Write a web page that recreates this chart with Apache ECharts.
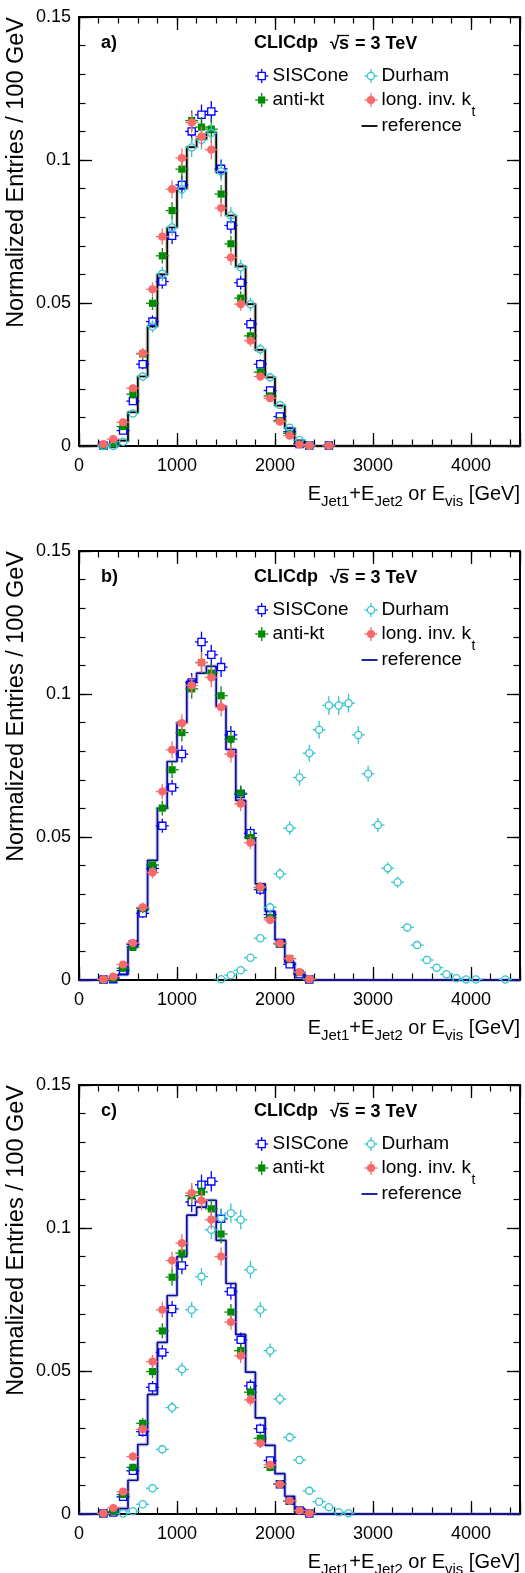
<!DOCTYPE html>
<html>
<head>
<meta charset="utf-8">
<script src="https://cdn.jsdelivr.net/npm/echarts@6/dist/echarts.min.js"></script>
<style>
html,body{margin:0;padding:0;background:#fff;}
#chart{width:525px;height:1573px;}
</style>
</head>
<body>
<div id="chart"></div>
<script>
// ---------------- DATA ----------------
const xTickLabels = ['0', '1000', '2000', '3000', '4000'];
const yTickLabels = ['0', '0.05', '0.1', '0.15'];
const panelTags = ['a)', 'b)', 'c)'];
const seriesNames = ['SISCone', 'anti-kt', 'Durham', 'long. inv. k', 'reference'];

// bin centres (GeV) for the jet-algorithm points
const centersJets = [250,350,450,550,650,750,850,950,1050,1150,1250,1350,1450,1550,1650,1750,1850,1950,2050,2150,2250,2350,2450,2550];
// reference histogram (100 GeV bins, lower edges)
const refBinLow = [200,300,400,500,600,700,800,900,1000,1100,1200,1300,1400,1500,1600,1700,1800,1900,2000,2100,2200,2300];
const refValues = [0,0.0005,0.0019,0.0118,0.0243,0.0418,0.0600,0.0764,0.0900,0.1045,0.1073,0.1097,0.0957,0.0806,0.0628,0.0496,0.0336,0.0240,0.0141,0.0062,0.0019,0];

// panel a)
const sisA  = [0.0002,0.0007,0.0054,0.0157,0.0286,0.0435,0.0575,0.0735,0.0913,0.1100,0.1158,0.1170,0.0969,0.0771,0.0571,0.0426,0.0286,0.0194,0.0103,0.0050,0.0007,0.0002,null,0.0002];
const antiA = [0.0001,0.0007,0.0068,0.0181,0.0322,0.0499,0.0665,0.0823,0.0968,0.1138,0.1115,0.1108,0.0881,0.0707,0.0517,0.0385,0.0258,0.0175,0.0089,0.0044,0.0007,0.0001,null,0.0001];
const durA  = [0.0000,0.0000,0.0015,0.0114,0.0243,0.0418,0.0602,0.0764,0.0898,0.1044,0.1071,0.1094,0.0960,0.0806,0.0625,0.0496,0.0338,0.0240,0.0143,0.0064,0.0021,0.0002,null,null];
const lkA   = [0.0007,0.0024,0.0083,0.0202,0.0324,0.0548,0.0732,0.0898,0.1007,0.1131,0.1082,0.1036,0.0832,0.0659,0.0496,0.0368,0.0243,0.0167,0.0085,0.0036,0.0005,0.0001,null,0.0001];

// panel b)
const sisB  = [0.0002,0.0003,0.0033,0.0125,0.0233,0.0390,0.0539,0.0673,0.0790,0.1040,0.1182,0.1137,0.1094,0.0857,0.0650,0.0513,0.0316,0.0229,0.0128,0.0055,0.0020,0.0002,null,null];
const antiB = [0.0001,0.0005,0.0041,0.0114,0.0250,0.0402,0.0601,0.0735,0.0865,0.1018,0.1110,0.1073,0.0994,0.0842,0.0653,0.0498,0.0323,0.0218,0.0126,0.0075,0.0026,0.0002,null,null];
const lkB   = [0.0002,0.0012,0.0054,0.0129,0.0254,0.0376,0.0659,0.0805,0.0898,0.1030,0.1110,0.1058,0.0954,0.0790,0.0616,0.0480,0.0325,0.0210,0.0128,0.0075,0.0028,0.0003,null,null];
const durCentersB = [1450,1550,1650,1750,1850,1950,2050,2150,2250,2350,2450,2550,2650,2750,2850,2950,3050,3150,3250,3350,3450,3550,3650,3750,3850,3950,4050,4150,4250,4350];
const durB  = [0.0003,0.0017,0.0034,0.0078,0.0146,0.0254,0.0371,0.0531,0.0708,0.0793,0.0875,0.0960,0.0960,0.0968,0.0857,0.0721,0.0542,0.0391,0.0342,0.0184,0.0122,0.0070,0.0043,0.0020,0.0006,0.0002,0.0002,null,null,0.0002];

// panel c)
const sisC  = [0.0002,0.0005,0.0060,0.0151,0.0288,0.0443,0.0565,0.0717,0.0869,0.1091,0.1151,0.1163,0.1032,0.0778,0.0609,0.0448,0.0298,0.0187,0.0104,0.0046,0.0012,0.0002,null,null];
const antiC = [0.0001,0.0009,0.0068,0.0163,0.0317,0.0498,0.0640,0.0828,0.0912,0.1113,0.1126,0.1067,0.0979,0.0706,0.0571,0.0426,0.0265,0.0163,0.0104,0.0046,0.0012,0.0002,null,null];
const lkC   = [0.0002,0.0021,0.0078,0.0201,0.0296,0.0533,0.0714,0.0886,0.0947,0.1122,0.1096,0.1029,0.0900,0.0671,0.0553,0.0399,0.0247,0.0172,0.0104,0.0046,0.0012,0.0002,null,null];
const durCentersC = [450,550,650,750,850,950,1050,1150,1250,1350,1450,1550,1650,1750,1850,1950,2050,2150,2250,2350,2450,2550,2650,2750];
const durC  = [0.0002,0.0010,0.0034,0.0090,0.0226,0.0372,0.0506,0.0714,0.0830,0.0994,0.1035,0.1052,0.1029,0.0854,0.0714,0.0571,0.0402,0.0268,0.0189,0.0081,0.0043,0.0024,0.0006,0.0003];

// statistical uncertainty scale (error ~ sqrt of normalized content)
const STAT_SCALE = 0.0105;

// ---------------- STYLE / LAYOUT ----------------
const FONT = '"Liberation Sans", Arial, Helvetica, sans-serif';
const X_MIN = 0, X_MAX = 4500, Y_MIN = 0, Y_MAX = 0.15;
const GRID_LEFT = 79, GRID_RIGHT = 5, GRID_H = 429;
const PANEL_TOPS = [17, 551, 1085];
const C_SIS = '#0000ff', C_ANTI = '#008c00', C_DUR = '#35c6cc', C_LK = '#f86a6a';
const REF_COLORS = ['#000000', '#0d0d96', '#0d0d96'];
const HALO_COLORS = ['#777777', '#7a7ad0', '#7a7ad0'];

const panels = [
  {sis: sisA, anti: antiA, dur: durA, durX: centersJets, lk: lkA},
  {sis: sisB, anti: antiB, dur: durB, durX: durCentersB, lk: lkB},
  {sis: sisC, anti: antiC, dur: durC, durX: durCentersC, lk: lkC}
];

const mctx = document.createElement('canvas').getContext('2d');
function tw(str, font) { mctx.font = font; return mctx.measureText(str).width; }

function markerShapes(kind, color, cx, cy, top, bot) {
  const h = 3.6, stub = 6.5, lw = 1.3;
  const ch = [];
  const ln = (x1, y1, x2, y2) => ({type: 'line', shape: {x1, y1, x2, y2}, style: {stroke: color, lineWidth: lw}});
  if (top < cy - h) ch.push(ln(cx, top, cx, cy - h));
  if (bot > cy + h) ch.push(ln(cx, cy + h, cx, bot));
  ch.push(ln(cx - stub, cy, cx - h, cy));
  ch.push(ln(cx + h, cy, cx + stub, cy));
  if (kind === 'osq') ch.push({type: 'rect', shape: {x: cx - h, y: cy - h, width: 2 * h, height: 2 * h}, style: {fill: 'none', stroke: color, lineWidth: lw}});
  if (kind === 'fsq') ch.push({type: 'rect', shape: {x: cx - h, y: cy - h, width: 2 * h, height: 2 * h}, style: {fill: color}});
  if (kind === 'oci') ch.push({type: 'circle', shape: {cx, cy, r: h}, style: {fill: 'none', stroke: color, lineWidth: lw}});
  if (kind === 'fci') ch.push({type: 'circle', shape: {cx, cy, r: 4.1}, style: {fill: color}});
  return ch;
}

function pointSeries(name, xs, ys, kind, color, idx) {
  const data = [];
  xs.forEach((x, i) => { const v = ys[i]; if (v !== null && v !== undefined) data.push([x, v, STAT_SCALE * Math.sqrt(v)]); });
  return {
    name, type: 'custom', xAxisIndex: 4 * idx, yAxisIndex: 4 * idx, data, clip: false, z: 5, silent: true,
    renderItem: function (params, api) {
      const x = api.value(0), y = api.value(1), e = api.value(2);
      const p = api.coord([x, y]);
      const top = api.coord([x, y + e])[1];
      const bot = api.coord([x, Math.max(0, y - e)])[1];
      return {type: 'group', children: markerShapes(kind, color, p[0], p[1], top, bot)};
    }
  };
}

const grids = [], xAxes = [], yAxes = [], series = [], graphics = [];
PANEL_TOPS.forEach((T, i) => {
  grids.push({left: GRID_LEFT, right: GRID_RIGHT, top: T, height: GRID_H, containLabel: false});
  const baseX = {gridIndex: i, type: 'value', min: X_MIN, max: X_MAX, splitLine: {show: false}};
  xAxes.push(Object.assign({}, baseX, {position: 'bottom', interval: 1000,
    axisLine: {show: true, onZero: false, lineStyle: {color: '#000', width: 2}},
    axisTick: {show: true, inside: true, length: 13, lineStyle: {color: '#000', width: 1.3}},
    axisLabel: {show: true, margin: 11, fontSize: 18, color: '#000', fontFamily: FONT,
      formatter: v => { const k = xTickLabels.indexOf(String(v)); return k >= 0 ? xTickLabels[k] : ''; }}}));
  xAxes.push(Object.assign({}, baseX, {position: 'bottom', interval: 200, axisLine: {show: false, onZero: false},
    axisTick: {show: true, inside: true, length: 6.5, lineStyle: {color: '#000', width: 1.2}}, axisLabel: {show: false}}));
  xAxes.push(Object.assign({}, baseX, {position: 'top', interval: 1000,
    axisLine: {show: true, onZero: false, lineStyle: {color: '#000', width: 2}},
    axisTick: {show: true, inside: true, length: 13, lineStyle: {color: '#000', width: 1.3}}, axisLabel: {show: false}}));
  xAxes.push(Object.assign({}, baseX, {position: 'top', interval: 200, axisLine: {show: false, onZero: false},
    axisTick: {show: true, inside: true, length: 6.5, lineStyle: {color: '#000', width: 1.2}}, axisLabel: {show: false}}));

  const baseY = {gridIndex: i, type: 'value', min: Y_MIN, max: Y_MAX, splitLine: {show: false}};
  yAxes.push(Object.assign({}, baseY, {position: 'left', interval: 0.05,
    axisLine: {show: true, onZero: false, lineStyle: {color: '#000', width: 2}},
    axisTick: {show: true, inside: true, length: 13, lineStyle: {color: '#000', width: 1.3}},
    axisLabel: {show: true, margin: 8, fontSize: 18, color: '#000', fontFamily: FONT,
      formatter: v => { const s = String(+Number(v).toFixed(3)); return yTickLabels.indexOf(s) >= 0 ? s : ''; }}}));
  yAxes.push(Object.assign({}, baseY, {position: 'left', interval: 0.01, axisLine: {show: false, onZero: false},
    axisTick: {show: true, inside: true, length: 6.5, lineStyle: {color: '#000', width: 1.2}}, axisLabel: {show: false}}));
  yAxes.push(Object.assign({}, baseY, {position: 'right', interval: 0.05,
    axisLine: {show: true, onZero: false, lineStyle: {color: '#000', width: 2}},
    axisTick: {show: true, inside: true, length: 13, lineStyle: {color: '#000', width: 1.3}}, axisLabel: {show: false}}));
  yAxes.push(Object.assign({}, baseY, {position: 'right', interval: 0.01, axisLine: {show: false, onZero: false},
    axisTick: {show: true, inside: true, length: 6.5, lineStyle: {color: '#000', width: 1.2}}, axisLabel: {show: false}}));

  // reference histogram
  const refData = [[X_MIN, 0]].concat(refBinLow.map((b, k) => [b, refValues[k]])).concat([[X_MAX, 0]]);
  series.push({type: 'line', step: 'end', xAxisIndex: 4 * i, yAxisIndex: 4 * i, data: refData, symbol: 'none', silent: true, z: 3,
    lineStyle: {color: HALO_COLORS[i], width: 4, opacity: 0.35}});
  series.push({name: 'reference', type: 'line', step: 'end', xAxisIndex: 4 * i, yAxisIndex: 4 * i, data: refData, symbol: 'none', silent: true, z: 4,
    lineStyle: {color: REF_COLORS[i], width: 1.7}});

  const P = panels[i];
  series.push(pointSeries('SISCone', centersJets, P.sis, 'osq', C_SIS, i));
  series.push(pointSeries('anti-kt', centersJets, P.anti, 'fsq', C_ANTI, i));
  series.push(pointSeries('Durham', P.durX, P.dur, 'oci', C_DUR, i));
  series.push(pointSeries('long. inv. kt', centersJets, P.lk, 'fci', C_LK, i));

  // ---- texts ----
  const bold = 'bold 18px ' + FONT;
  const txt = (text, x, y, font, align, extra) => Object.assign({type: 'text', x, y, z: 100, silent: true,
    style: {text, font, fill: '#000', align: align || 'left', verticalAlign: 'middle', textAlign: align || 'left', textVerticalAlign: 'middle'}}, extra || {});
  graphics.push(txt(panelTags[i], 101, T + 26, bold));
  graphics.push(txt('CLICdp', 254, T + 26, bold));
  graphics.push(txt('\u221A', 330, T + 27, 'bold 17px ' + FONT));
  graphics.push(txt('s', 339, T + 27, bold));
  graphics.push({type: 'line', z: 100, silent: true, shape: {x1: 337, y1: T + 18.5, x2: 349, y2: T + 18.5}, style: {stroke: '#000', lineWidth: 1.3}});
  graphics.push(txt('= 3 TeV', 355, T + 27, bold));

  // legend
  const lf = '19px ' + FONT;
  const r1 = T + 59, r2 = T + 83, r3 = T + 109;
  graphics.push({type: 'group', z: 100, silent: true, children: markerShapes('osq', C_SIS, 261.7, r1, r1 - 7, r1 + 7)});
  graphics.push(txt(seriesNames[0], 272.5, r1, lf));
  graphics.push({type: 'group', z: 100, silent: true, children: markerShapes('oci', C_DUR, 371, r1, r1 - 7, r1 + 7)});
  graphics.push(txt(seriesNames[2], 381.5, r1, lf));
  graphics.push({type: 'group', z: 100, silent: true, children: markerShapes('fsq', C_ANTI, 261.7, r2, r2 - 7, r2 + 7)});
  graphics.push(txt(seriesNames[1], 272.5, r2, lf));
  graphics.push({type: 'group', z: 100, silent: true, children: markerShapes('fci', C_LK, 371, r2, r2 - 7, r2 + 7)});
  graphics.push(txt(seriesNames[3], 381.5, r2, lf));
  graphics.push(txt('t', 381.5 + tw(seriesNames[3], lf) + 0.5, r2 + 12, '14px ' + FONT));
  graphics.push({type: 'line', z: 100, silent: true, shape: {x1: 361.5, y1: r3, x2: 377.5, y2: r3}, style: {stroke: REF_COLORS[i], lineWidth: 1.8}});
  graphics.push(txt(seriesNames[4], 381.5, r3, lf));

  // y title (rotated)
  graphics.push(txt('Normalized Entries / 100 GeV', 17, T, '23.5px ' + FONT, 'right', {rotation: Math.PI / 2}));

  // x title with subscripts
  const pieces = [['E', 20, 0], ['Jet1', 15, 8], ['+E', 20, 0], ['Jet2', 15, 8], [' or E', 20, 0], ['vis', 15, 8], [' [GeV]', 20, 0]];
  let total = 0;
  pieces.forEach(p => { total += tw(p[0], p[1] + 'px ' + FONT); });
  let xx = 520 - total;
  const yc = T + 477;
  pieces.forEach(p => {
    const f = p[1] + 'px ' + FONT;
    graphics.push(txt(p[0], xx, yc + p[2], f));
    xx += tw(p[0], f);
  });
});

const chart = echarts.init(document.getElementById('chart'), null, {renderer: 'canvas', width: 525, height: 1573});
chart.setOption({
  animation: false,
  backgroundColor: '#ffffff',
  grid: grids,
  xAxis: xAxes,
  yAxis: yAxes,
  series: series,
  graphic: {elements: graphics}
});
</script>
</body>
</html>
